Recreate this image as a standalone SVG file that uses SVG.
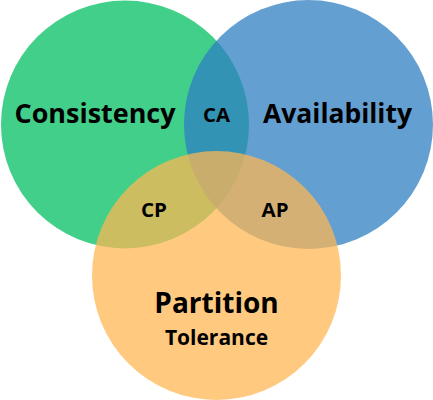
<svg xmlns="http://www.w3.org/2000/svg" width="433" height="400" viewBox="0 0 433 400">
<style>
text{font-family:"Open Sans","DejaVu Sans",sans-serif;font-weight:bold;fill:#000;text-anchor:middle}
.big{font-size:26px}
.small{font-size:20px}
</style>
<rect width="433" height="400" fill="#fff"/>
<g id="consistency">
<circle cx="125" cy="124.5" r="124" fill="#41CF89"/>
</g>
<g id="availability">
<circle cx="308.5" cy="124.5" r="124.5" fill="#2F7EC3" fill-opacity="0.745"/>
</g>
<g id="partition">
<circle cx="216.5" cy="275.5" r="124.5" fill="#FFB752" fill-opacity="0.735"/>
</g>
<g id="labels">
<text class="big" x="95" y="123" textLength="161" lengthAdjust="spacingAndGlyphs">Consistency</text>
<text class="big" x="337.5" y="123" textLength="149" lengthAdjust="spacingAndGlyphs">Availability</text>
<text class="small" x="216.5" y="121.5" textLength="27" lengthAdjust="spacingAndGlyphs">CA</text>
<text class="small" x="154" y="217" textLength="26" lengthAdjust="spacingAndGlyphs">CP</text>
<text class="small" x="275" y="217" textLength="27" lengthAdjust="spacingAndGlyphs">AP</text>
<text x="216.5" y="313" style="font-size:28px">Partition</text>
<text x="216.5" y="345" style="font-size:21px">Tolerance</text>
</g>
<g id="connectors"/>
</svg>
